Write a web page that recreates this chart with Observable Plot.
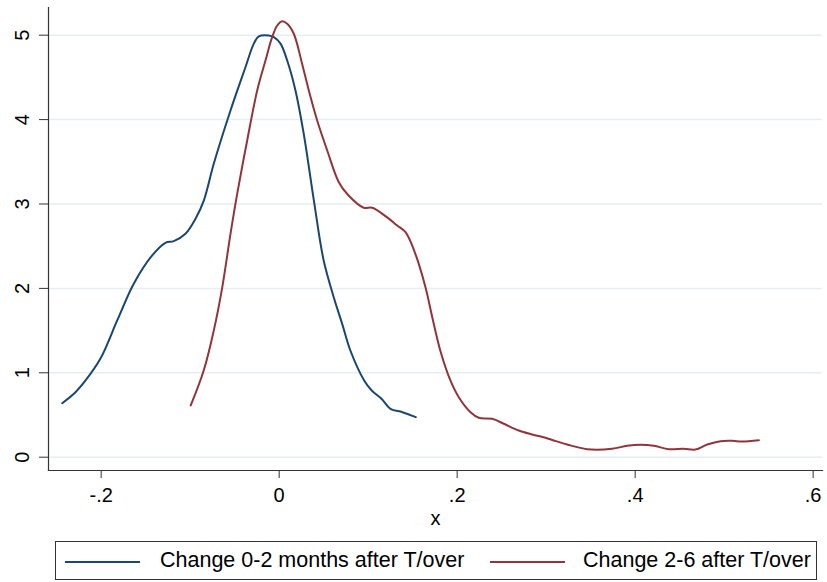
<!DOCTYPE html>
<html>
<head>
<meta charset="utf-8">
<script src="https://cdn.jsdelivr.net/npm/d3@7"></script>
<script src="https://cdn.jsdelivr.net/npm/@observablehq/plot@0.6"></script>
<style>
  body { margin: 0; background: #fff; font-family: "Liberation Sans", Arial, Helvetica, sans-serif; }
  #wrap { position: relative; width: 827px; height: 582px; }
  #legend { position: absolute; left: 55px; top: 541px; width: 762px; height: 39px; border: 1px solid #333; box-sizing: border-box; }
  .sw { position: absolute; top: 19px; height: 0; border-top: 2px solid; }
  .lt { position: absolute; top: 5px; font-size: 21.5px; line-height: 26px; color: #000; white-space: nowrap; }
</style>
</head>
<body>
<div id="wrap"><div id="chart"></div>
<div id="legend">
  <div class="sw" style="left:9px;width:75px;border-color:#1a476f"></div>
  <div class="lt" id="l1" style="left:104px"></div>
  <div class="sw" style="left:434px;width:75px;border-color:#90353b"></div>
  <div class="lt" id="l2" style="left:527px"></div>
</div>
</div>
<script>
const seriesNames = ["Change 0-2 months after T/over", "Change 2-6 after T/over"];
const colors = ["#1a476f", "#90353b"];

const x1 = [-0.2438, -0.2289, -0.2176, -0.2008, -0.182, -0.1634, -0.1427, -0.1278, -0.1184, -0.1053, -0.094, -0.0847, -0.0735, -0.0547, -0.0379, -0.0285, -0.0229, -0.0117, -0.006, 0.0015, 0.009, 0.0183, 0.0276, 0.039, 0.050, 0.0613, 0.0708, 0.080, 0.0955, 0.104, 0.1152, 0.125, 0.1386, 0.1535];
const y1 = [0.64, 0.77, 0.909, 1.169, 1.62, 2.055, 2.39, 2.54, 2.56, 2.647, 2.825, 3.04, 3.476, 4.108, 4.62, 4.90, 4.985, 4.996, 4.976, 4.90, 4.70, 4.345, 3.83, 3.04, 2.33, 1.896, 1.58, 1.264, 0.909, 0.79, 0.69, 0.573, 0.533, 0.474];

const x2 = [-0.0994, -0.0847, -0.0735, -0.064, -0.0547, -0.0472, -0.036, -0.0247, -0.0154, -0.0079, -0.0022, 0.0034, 0.009, 0.0164, 0.0258, 0.0333, 0.0427, 0.054, 0.067, 0.078, 0.095, 0.1045, 0.121, 0.1326, 0.142, 0.153, 0.1644, 0.172, 0.181, 0.1924, 0.2018, 0.215, 0.2243, 0.2393, 0.2524, 0.2692, 0.2843, 0.2992, 0.3085, 0.3236, 0.346, 0.374, 0.391, 0.406, 0.421, 0.4378, 0.4546, 0.4677, 0.481, 0.4958, 0.509, 0.520, 0.539];
const y2 = [0.613, 1.03, 1.50, 2.01, 2.647, 3.12, 3.75, 4.345, 4.70, 4.976, 5.115, 5.166, 5.135, 5.017, 4.66, 4.345, 3.99, 3.634, 3.258, 3.10, 2.955, 2.955, 2.844, 2.745, 2.666, 2.41, 2.014, 1.659, 1.264, 0.909, 0.711, 0.533, 0.467, 0.455, 0.396, 0.316, 0.269, 0.23, 0.198, 0.150, 0.095, 0.10, 0.135, 0.147, 0.135, 0.095, 0.10, 0.091, 0.150, 0.19, 0.194, 0.186, 0.201];

const xTicks = [-0.2, 0, 0.2, 0.4, 0.6];
const yTicks = [0, 1, 2, 3, 4, 5];
const xLabel = "x";

const fmt = d => d === 0 ? "0" : String(+d.toFixed(1)).replace("0.", ".");

const s1 = x1.map((x, i) => ({x, y: y1[i]}));
const s2 = x2.map((x, i) => ({x, y: y2[i]}));

const font = "Liberation Sans, Arial, Helvetica, sans-serif";

const chart = Plot.plot({
  width: 827,
  height: 535,
  marginLeft: 48,
  marginRight: 5,
  marginTop: 7,
  marginBottom: 65,
  style: {fontFamily: font, background: "white"},
  x: {domain: [-0.2592, 0.6105]},
  y: {domain: [-0.1576, 5.328]},
  marks: [
    Plot.ruleY(yTicks, {stroke: "#e6eef1", strokeWidth: 1.5}),
    Plot.line(s1, {x: "x", y: "y", stroke: colors[0], strokeWidth: 2, curve: "catmull-rom"}),
    Plot.line(s2, {x: "x", y: "y", stroke: colors[1], strokeWidth: 2, curve: "catmull-rom"}),
    Plot.frame({anchor: "left", stroke: "#333", strokeWidth: 1.2}),
    Plot.frame({anchor: "bottom", stroke: "#333", strokeWidth: 1.2}),
    Plot.axisX({ticks: xTicks, tickSize: 8, tickFormat: () => "", stroke: "#333", label: null}),
    Plot.text(xTicks, {x: d => d, text: fmt, frameAnchor: "bottom", dy: 25, lineAnchor: "middle", fontSize: 20, fill: "#000"}),
    Plot.axisY({ticks: yTicks, tickSize: 9, tickFormat: () => "", stroke: "#333", label: null}),
    Plot.text(yTicks, {y: d => d, text: d => String(d), frameAnchor: "left", dx: -26, rotate: -90, textAnchor: "middle", lineAnchor: "middle", fontSize: 20, fill: "#000"}),
    Plot.text([xLabel], {text: d => d, frameAnchor: "bottom", dy: 48, lineAnchor: "middle", fontSize: 20, fill: "#000"})
  ]
});
document.getElementById("chart").appendChild(chart);
document.getElementById("l1").textContent = seriesNames[0];
document.getElementById("l2").textContent = seriesNames[1];
</script>
</body>
</html>
